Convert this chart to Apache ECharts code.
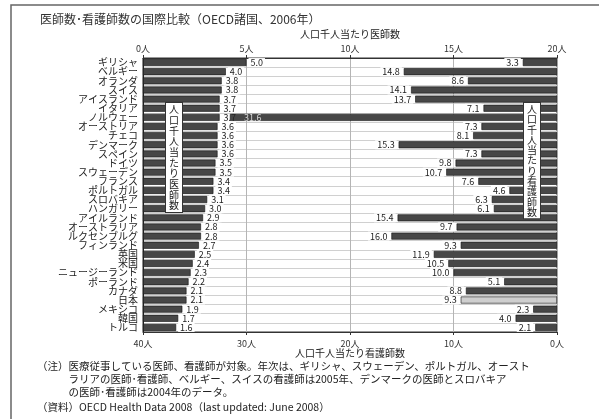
<!DOCTYPE html>
<html>
<head>
<meta charset="utf-8">
<script src="https://cdn.jsdelivr.net/npm/echarts@6/dist/echarts.min.js"></script>
<style>
html,body{margin:0;padding:0;background:#fff;}
#chart{width:599px;height:419px;}
</style>
</head>
<body>
<div id="chart"></div>
<script>
// 国名
var countries = ['ギリシャ','ベルギー','オランダ','スイス','アイスランド','イタリア','ノルウェー','オーストリア','チェコ','デンマーク','スペイン','ドイツ','スウェーデン','フランス','ポルトガル','スロバキア','ハンガリー','アイルランド','オーストラリア','ルクセンブルグ','フィンランド','英国','米国','ニュージーランド','ポーランド','カナダ','日本','メキシコ','韓国','トルコ'];
// 人口千人当たり医師数
var doctors = [5.0,4.0,3.8,3.8,3.7,3.7,3.7,3.6,3.6,3.6,3.6,3.5,3.5,3.4,3.4,3.1,3.0,2.9,2.8,2.8,2.7,2.5,2.4,2.3,2.2,2.1,2.1,1.9,1.7,1.6];
// 人口千人当たり看護師数
var nurses = [3.3,14.8,8.6,14.1,13.7,7.1,31.6,7.3,8.1,15.3,7.3,9.8,10.7,7.6,4.6,6.3,6.1,15.4,9.7,16.0,9.3,11.9,10.5,10.0,5.1,8.8,9.3,2.3,4.0,2.1];
var doctorTicks = [0,5,10,15,20];
var nurseTicks = [0,10,20,30,40];

var FONT = '"Noto Sans CJK JP", sans-serif';
var chart = echarts.init(document.getElementById('chart'));

var labelStyle = {
  show: true,
  fontSize: 9,
  fontFamily: FONT,
  color: '#222',
  backgroundColor: '#fff',
  padding: [0, 2],
  distance: 2,
  formatter: function (p) { return p.value.toFixed(1); }
};

// 医師データ(ノルウェーはラベルの背景なし)
var doctorData = [];
// 看護師データ(ノルウェーと日本だけ見た目が違う)
var nurseData = [];
for (var i = 0; i < nurses.length; i++) {
  var d = {value: doctors[i]};
  var item = {value: nurses[i]};
  if (countries[i] == 'ノルウェー') {
    d.label = {backgroundColor: 'transparent'};
    item.label = {position: 'insideLeft', color: '#d8d8d8', backgroundColor: 'transparent', distance: 12};
  }
  if (countries[i] == '日本') {
    item.itemStyle = {color: '#cfcfcf'};
  }
  doctorData.push(d);
  nurseData.push(item);
}

function vertText(s) { return s.split('').join('\n'); }

var option = {
  backgroundColor: '#fff',
  animation: false,
  textStyle: {fontFamily: FONT},
  grid: {left: 143, right: 42, top: 58, bottom: 87, show: true, borderColor: '#333', borderWidth: 1},
  xAxis: [
    {
      type: 'value', position: 'top', min: doctorTicks[0], max: doctorTicks[doctorTicks.length - 1], interval: 5,
      axisLine: {show: true, lineStyle: {color: '#333'}},
      axisTick: {show: true, length: 3, lineStyle: {color: '#333'}},
      axisLabel: {fontSize: 9, color: '#333', margin: 5, formatter: '{value}人'},
      splitLine: {show: true, lineStyle: {color: '#b5b5b5'}}
    },
    {
      type: 'value', position: 'bottom', inverse: true, min: nurseTicks[0], max: nurseTicks[nurseTicks.length - 1], interval: 10,
      axisLine: {show: true, lineStyle: {color: '#333'}},
      axisTick: {show: true, length: 3, lineStyle: {color: '#333'}},
      axisLabel: {fontSize: 9, color: '#333', margin: 7, formatter: '{value}人'},
      splitLine: {show: false}
    }
  ],
  yAxis: {
    type: 'category', inverse: true, data: countries,
    axisLine: {show: true, lineStyle: {color: '#222'}},
    axisTick: {show: false},
    axisLabel: {fontSize: 10, color: '#222', margin: 5, interval: 0},
    splitLine: {show: true, lineStyle: {color: '#d0d0d0'}}
  },
  series: [
    {
      name: '医師数', type: 'bar', xAxisIndex: 0, data: doctorData,
      barWidth: 7, barGap: '-100%', z: 3,
      itemStyle: {color: '#474747', borderColor: '#111', borderWidth: 0.6},
      label: echarts.util.merge({position: 'right'}, labelStyle, true)
    },
    {
      name: '看護師数', type: 'bar', xAxisIndex: 1, data: nurseData,
      barWidth: 7, barGap: '-100%', z: 2,
      itemStyle: {color: '#474747', borderColor: '#111', borderWidth: 0.6},
      label: echarts.util.merge({position: 'left'}, labelStyle, true)
    }
  ],
  graphic: [
    {type: 'rect', shape: {x: 11, y: 5, width: 600, height: 430}, style: {fill: 'none', stroke: '#666', lineWidth: 1.5}, silent: true},
    {type: 'text', left: 40, top: 13, style: {text: '医師数･看護師数の国際比較（OECD諸国、2006年）', font: '12px ' + FONT, fill: '#333'}},
    {type: 'text', x: 350, y: 29, style: {text: '人口千人当たり医師数', font: '10px ' + FONT, fill: '#222', align: 'center'}},
    {type: 'text', x: 350, y: 348, style: {text: '人口千人当たり看護師数', font: '10px ' + FONT, fill: '#222', align: 'center'}},
    {type: 'text', x: 174, y: 103, z: 10, style: {
      text: vertText('人口千人当たり医師数'), font: '10px ' + FONT, lineHeight: 10.7, fill: '#222', align: 'center',
      backgroundColor: '#fff', borderColor: '#333', borderWidth: 1, padding: [1, 3]
    }},
    {type: 'text', x: 532, y: 103, z: 10, style: {
      text: vertText('人口千人当たり看護師数'), font: '10px ' + FONT, lineHeight: 10.3, fill: '#222', align: 'center',
      backgroundColor: '#fff', borderColor: '#333', borderWidth: 1, padding: [1, 3]
    }},
    {type: 'text', left: 37, top: 360, style: {
      text: '（注）医療従事している医師、看護師が対象。年次は、ギリシャ、スウェーデン、ポルトガル、オースト\n　　　ラリアの医師･看護師、ベルギー、スイスの看護師は2005年、デンマークの医師とスロバキア\n　　　の医師･看護師は2004年のデータ。',
      font: '10.5px ' + FONT, lineHeight: 13, fill: '#222'
    }},
    {type: 'text', left: 37, top: 402, style: {
      text: '（資料）OECD Health Data 2008（last updated: June 2008）', font: '10.5px ' + FONT, fill: '#222'
    }}
  ]
};
chart.setOption(option);
</script>
</body>
</html>
